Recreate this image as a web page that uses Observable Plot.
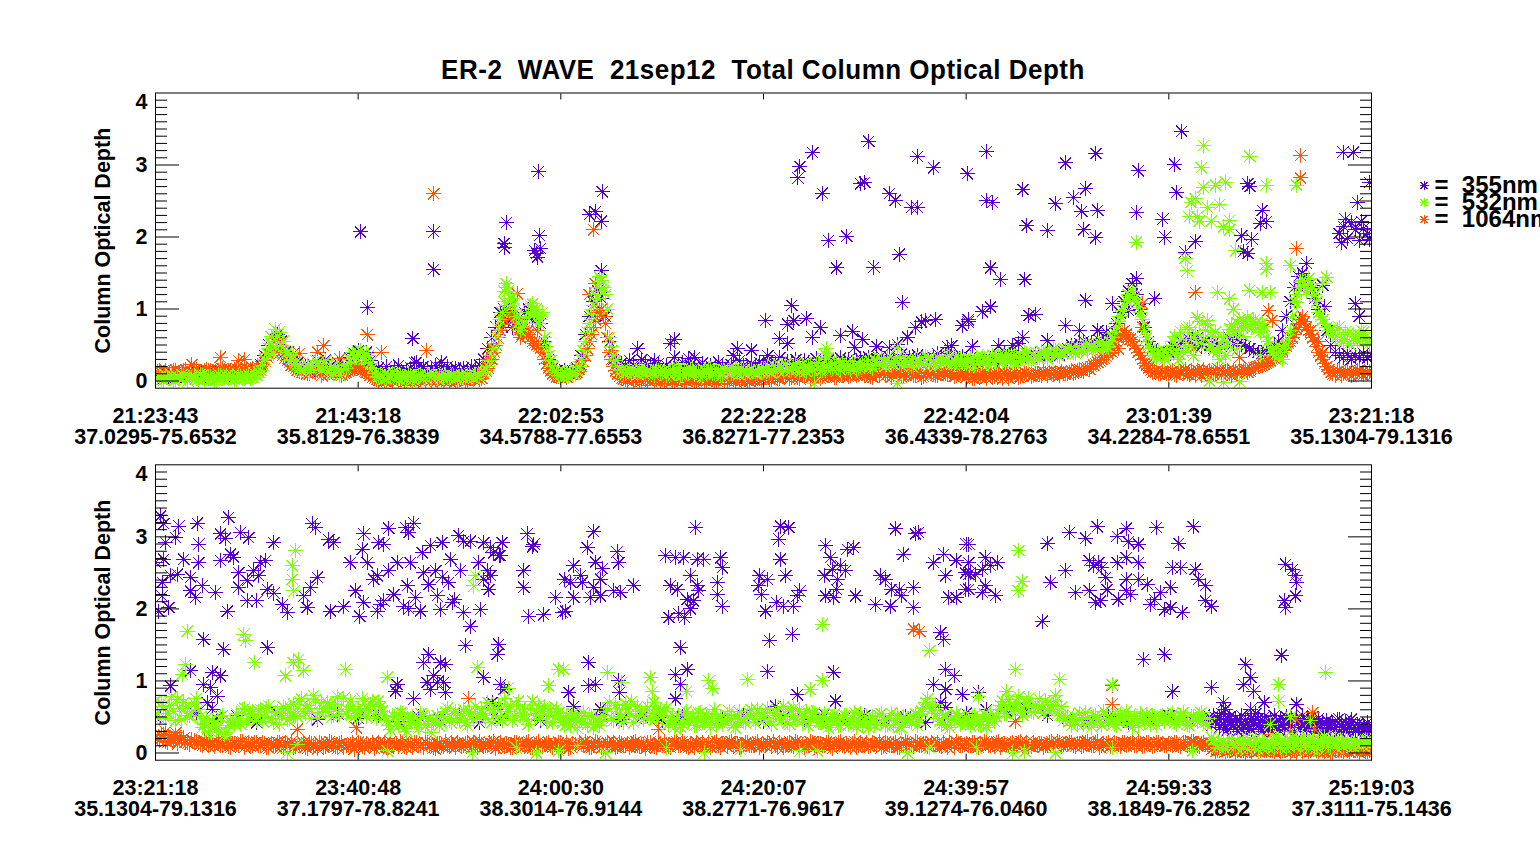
<!DOCTYPE html>
<html>
<head>
<meta charset="utf-8">
<script src="https://cdn.jsdelivr.net/npm/d3@7"></script>
<script src="https://cdn.jsdelivr.net/npm/@observablehq/plot@0.6"></script>
<style>
  html, body { margin: 0; padding: 0; width: 1540px; height: 845px; overflow: hidden; background: white; }
  #title { position: absolute; left: 0; width: 1526px; top: 55px; line-height: 30px; text-align: center;
           font-family: "Liberation Sans", Arial, sans-serif; font-weight: bold; font-size: 26px;
           white-space: pre; letter-spacing: 0.5px; transform: scaleY(1.05); color: black; }
  #p1 { position: absolute; left: 0; top: 0; }
  #p2 { position: absolute; left: 0; top: 448px; }
</style>
</head>
<body>
<div id="title">ER-2  WAVE  21sep12  Total Column Optical Depth</div>
<div id="p1"></div>
<div id="p2"></div>
<script>
// ---------- tick labels ----------
const times1 = ["21:23:43","21:43:18","22:02:53","22:22:28","22:42:04","23:01:39","23:21:18"];
const coords1 = ["37.0295-75.6532","35.8129-76.3839","34.5788-77.6553","36.8271-77.2353","36.4339-78.2763","34.2284-78.6551","35.1304-79.1316"];
const times2 = ["23:21:18","23:40:48","24:00:30","24:20:07","24:39:57","24:59:33","25:19:03"];
const coords2 = ["35.1304-79.1316","37.1797-78.8241","38.3014-76.9144","38.2771-76.9617","39.1274-76.0460","38.1849-76.2852","37.3111-75.1436"];
const yTickLabels = [0, 1, 2, 3, 4];
const wavelengths = ["355nm", "532nm", "1064nm"];

// ---------- panel 1: regularly sampled optical depth, in hundredths ----------
// "A" samples at x = 0, 0.02 … 6 ; "B" samples at x = 0.01, 0.03 … 5.99 (x in tick intervals)
const p1Dense = [
  6,10,4,8,12,5,9,11,7,10,13,6,9,12,8,11,14,7,10,13,9,12,15,10,13,
  14,22,35,50,45,65,55,40,30,38,25,18,20,14,22,28,18,30,20,12,25,16,20,32,38,
  42,35,40,28,14,18,10,20,12,16,22,10,15,18,25,12,20,14,18,22,15,12,20,16,18,
  14,18,12,20,16,22,30,45,60,75,95,100,85,75,90,80,95,100,85,90,80,55,30,18,14,
  12,15,10,14,18,35,65,90,110,125,115,90,55,30,20,25,18,28,22,45,30,25,20,28,24,
  14,22,18,12,20,26,16,22,14,19,25,17,21,13,26,20,16,23,18,28,21,17,24,20,26,
  22,28,20,25,32,22,27,24,30,21,28,26,23,31,25,22,29,27,24,32,26,30,23,28,31,
  28,33,26,31,35,29,34,27,32,37,30,33,28,36,31,34,29,32,38,30,35,31,33,29,34,
  28,32,24,30,34,27,31,29,35,28,33,36,30,34,32,38,33,37,35,40,34,39,42,36,41,
  45,50,47,52,55,48,53,50,56,52,54,65,80,95,110,125,135,120,100,75,55,45,40,38,36,
  40,48,45,55,50,58,52,60,48,55,50,45,52,48,55,60,52,58,50,48,45,42,40,38,42,
  45,50,55,70,90,110,130,145,150,140,130,115,100,85,70,50,40,35,32,38,30,35,33,38,32,
  35];
const o1Dense = [
  11,14,12,10,13,15,12,14,11,13,16,12,14,15,13,12,16,14,15,13,17,14,16,15,17,
  16,20,28,38,45,50,40,32,25,20,15,12,18,10,16,14,8,15,12,10,14,8,12,15,18,
  20,15,12,8,3,1,4,0,2,5,1,3,0,4,2,1,3,5,0,2,4,1,3,2,0,
  2,4,1,3,5,2,10,18,30,50,70,85,95,90,80,60,70,65,55,50,45,30,18,10,6,
  5,8,6,10,12,20,35,55,75,95,100,80,40,20,10,4,2,5,1,3,0,2,4,1,3,
  2,0,3,1,4,2,0,3,1,2,4,0,3,1,2,5,1,3,0,2,4,1,3,2,4,
  3,6,2,8,4,7,10,5,9,3,8,11,6,9,4,10,7,12,5,9,11,6,10,8,12,
  8,13,5,11,15,7,12,9,14,6,10,16,8,12,5,11,14,9,7,13,10,15,6,11,9,
  5,9,3,7,11,4,8,6,10,3,9,7,12,5,8,10,6,11,9,13,7,10,12,8,11,
  10,14,12,16,13,18,20,24,28,32,38,45,55,65,70,60,55,45,35,25,18,12,14,10,12,
  10,14,8,13,16,9,12,15,7,11,14,10,17,8,13,11,15,9,12,16,14,18,20,22,25,
  28,32,38,42,48,55,65,80,90,75,65,55,40,30,20,12,8,14,10,13,7,12,15,9,11,
  12];
const o1DenseB = [
  13,11,15,12,14,10,13,16,12,15,13,11,16,14,12,15,17,13,14,16,15,13,17,16,15,
  18,24,33,42,48,46,36,28,22,17,13,16,11,14,12,17,11,9,14,12,9,11,14,17,20,
  17,13,10,5,2,4,0,3,1,5,2,0,3,1,4,2,0,3,5,1,2,4,0,3,1,
  3,1,4,2,6,4,14,24,40,60,78,90,92,85,70,65,68,60,52,48,40,24,14,8,6,
  7,5,9,11,16,28,45,65,85,98,90,60,30,14,6,3,1,4,2,0,3,1,3,2,0,
  1,3,0,2,4,1,3,2,0,3,1,4,2,0,3,1,4,2,3,1,2,0,4,3,2,
  5,2,7,4,9,6,3,8,5,10,7,4,11,8,6,12,9,5,10,7,13,8,11,9,10,
  10,6,12,8,14,9,5,13,10,7,15,11,8,12,6,14,10,8,13,11,9,14,7,12,10,
  7,4,10,6,8,12,5,9,7,11,4,8,10,6,12,9,7,11,8,10,12,9,11,13,10,
  12,11,15,14,17,16,22,26,30,35,42,50,60,68,65,58,50,40,30,22,15,13,11,13,10,
  12,9,15,11,10,14,8,13,16,10,12,9,15,11,14,8,13,10,15,12,17,19,21,24,26,
  30,35,40,45,52,60,72,85,82,70,60,48,35,25,16,10,13,8,12,11,9,14,10,12,13];
const g1Dense = [
  3,6,1,5,8,2,4,7,0,5,3,9,2,6,4,1,7,5,3,8,2,6,4,9,5,
  8,15,30,45,38,62,50,42,28,35,22,15,18,12,20,25,15,28,18,10,22,14,18,30,35,
  40,32,38,25,10,5,8,3,7,9,4,6,2,8,5,7,3,9,4,6,8,2,5,7,4,
  6,3,8,5,9,7,12,20,35,60,85,110,125,105,90,70,80,95,100,90,85,60,35,20,12,
  8,12,6,10,15,30,55,80,105,130,140,120,60,35,20,14,10,16,12,9,15,11,13,8,14,
  12,7,15,10,18,8,13,16,9,14,6,12,17,10,13,8,15,11,18,9,14,12,16,10,13,
  14,20,11,17,22,13,19,15,24,12,18,21,16,25,14,20,23,17,26,15,22,19,27,16,21,
  22,28,18,25,31,20,27,24,33,21,29,26,19,30,25,34,22,28,32,24,27,35,23,30,26,
  25,31,22,28,34,24,30,27,35,26,32,29,36,27,33,38,30,35,32,40,31,37,42,34,39,
  40,46,38,44,50,42,48,45,52,43,47,60,75,90,105,120,125,110,95,70,50,40,32,38,30,
  35,55,42,68,50,75,60,88,52,70,45,62,40,55,48,72,65,80,75,82,78,85,72,80,60,
  45,35,40,30,50,70,110,130,140,125,135,120,95,85,75,70,60,75,55,65,50,62,58,68,55,
  58];
const g1DenseB = [
  5,2,8,4,1,6,9,3,5,7,2,8,4,6,1,9,3,7,5,2,8,4,6,3,10,
  12,22,38,52,48,68,55,40,30,25,18,12,22,16,28,20,24,12,20,16,8,18,25,40,32,
  42,30,35,18,6,9,3,7,10,4,8,5,9,2,6,8,4,7,10,3,6,9,5,8,4,
  8,5,10,4,7,11,16,28,45,72,95,130,115,100,80,75,88,105,92,80,95,48,28,15,8,
  10,7,14,9,20,42,68,92,120,145,125,100,48,28,16,11,15,9,13,17,10,14,12,16,11,
  15,10,13,17,8,14,11,16,12,9,15,18,10,13,7,14,16,11,12,17,9,15,13,10,16,
  17,12,22,15,19,24,14,20,17,23,13,21,18,26,15,22,19,24,17,27,20,16,23,18,25,
  25,20,30,23,27,32,22,28,24,34,26,20,31,27,23,33,29,21,30,26,36,24,28,31,25,
  29,24,33,27,31,23,36,28,32,30,37,25,34,31,39,28,36,33,41,35,38,44,36,40,43,
  44,40,48,42,52,46,50,44,54,48,55,68,82,98,112,118,115,102,85,60,45,36,42,34,40,
  45,62,38,58,72,48,65,82,58,78,50,68,45,60,52,78,70,85,62,88,74,80,68,76,55,
  40,48,32,45,58,90,120,138,130,142,128,110,90,80,70,65,72,58,68,52,64,56,70,60,52];

// ---------- panel 1: scattered readings [x, optical depth] ----------
const p1Scatter = [[1.012,2.07],[1.045,1.02],[1.373,2.07],[1.373,1.55],[1.27,0.59],[1.29,0.26],[1.41,0.26],
  [1.732,2.20],[1.72,1.91],[1.72,1.85],[1.71,0.75],[1.74,0.98],[1.89,2.91],[1.895,2.02],[1.87,1.81],[1.88,1.77],[1.90,1.84],[1.885,1.72],
  [2.204,2.63],[2.14,2.31],[2.17,2.35],[2.20,2.22],[2.20,1.53],
  [2.54,0.52],[2.56,0.58],[2.56,0.33],[2.63,0.31],[2.66,0.33],[2.85,0.35],[2.87,0.45],[2.94,0.43],[3.01,0.84],[3.02,0.35],[3.14,1.05],[3.15,0.84],[3.21,0.87],[3.12,0.79],[3.08,0.59],[3.12,0.52],[3.24,0.61],[3.28,0.74],[3.38,0.63],[3.44,0.69],[3.49,0.58],[3.45,0.47],[3.56,0.48],[3.62,0.46],[3.66,0.51],[3.685,1.09],[3.71,0.61],[3.75,0.74],[3.78,0.82],[3.80,0.84],[3.85,0.85],[3.91,0.47],[3.93,0.49],[3.98,0.77],[4.01,0.85],
  [3.17,2.82],[3.18,2.98],[3.243,3.17],[3.29,2.61],[3.52,3.33],[3.48,2.74],[3.50,2.76],[3.62,2.60],[3.65,2.51],[3.73,2.41],[3.76,2.41],[3.76,3.12],[3.84,2.96],[4.005,2.88],[3.32,1.95],[3.41,2.01],[3.36,1.57],[3.545,1.58],[3.67,1.76],
  [4.10,3.19],[4.10,2.51],[4.13,2.48],[4.28,2.66],[4.30,2.16],[4.40,2.09],[4.49,3.03],[4.44,2.46],[4.53,2.55],[4.57,2.36],[4.59,2.67],[4.65,2.37],[4.58,2.10],[4.64,1.99],[4.64,3.16],[4.85,2.92],[4.84,2.34],[4.12,1.57],[4.17,1.41],[4.29,1.41],[4.59,1.12],[4.72,1.07],[4.93,1.14],[4.01,0.82],[4.08,0.96],[4.12,1.03],[4.31,0.91],[4.34,0.93],[4.49,0.77],[4.56,0.70],[4.65,0.70],[4.69,0.68],[4.28,0.61],[4.40,0.56],[4.16,0.49],[4.23,0.49],[4.26,0.52],[4.19,0.40],[4.03,0.48],[4.84,1.42],[4.80,0.98],
  [5.063,3.47],[5.03,3.01],[5.04,2.62],[4.97,2.25],[4.98,2.0],[5.13,1.94],[5.08,1.79],[5.39,2.74],[5.40,2.70],[5.36,2.02],[5.41,1.97],[5.39,1.77],[5.37,1.80],[5.46,2.37],[5.48,2.21],[5.45,2.19],[5.86,3.18],[5.91,3.18],[5.99,2.76],[5.93,2.48],[5.92,1.07],[5.94,0.9],[5.68,1.63],[5.76,1.33],[5.66,1.35],[5.77,1.03],[5.645,0.85],
  [5.84,2.05],[5.86,2.15],[5.88,1.98],[5.90,2.2],[5.92,2.1],[5.94,1.95],[5.96,2.12],[5.98,2.05],[5.87,2.25],[5.95,2.22],[5.85,1.92],[5.99,1.97]];
const o1Scatter = [[0.18,0.23],[0.32,0.33],[0.41,0.28],[0.44,0.30],[0.60,0.59],[0.71,0.38],[0.83,0.49],[0.80,0.40],[0.91,0.31],[1.045,0.64],[1.113,0.40],[1.337,0.42],[1.373,2.60],[1.785,1.21],[1.75,1.05],[1.883,0.70],[2.163,2.10],[2.17,1.35],[2.14,1.20],[1.66,0.45],[1.64,0.3],[2.25,0.42],
  [5.13,1.23],[5.13,0.47],[5.35,0.33],[5.65,3.13],[5.65,2.82],[5.63,1.84],[5.49,0.98],[5.51,0.84],[5.70,0.70],[5.76,0.40],[5.74,0.55],[4.87,1.07],[4.87,0.75],[4.79,0.6],[4.72,0.4],[4.75,0.45]];
const g1Scatter = [[0.59,0.72],[0.57,0.62],[1.73,1.35],[1.72,1.25],[1.76,1.15],[1.86,1.07],[1.88,1.0],[1.91,0.95],[2.19,1.44],[2.21,1.3],[2.18,1.15],[3.31,0.45],[3.30,0.38],[3.32,0.32],[3.66,0.47],[3.25,-0.03],[3.66,-0.03],
  [5.17,3.27],[5.16,2.96],[5.40,3.12],[5.48,2.72],[5.17,2.69],[5.13,2.53],[5.11,2.48],[5.10,2.28],[5.14,2.28],[5.15,2.22],[5.21,2.22],[5.19,2.41],[5.23,2.72],[5.28,2.76],[5.25,2.45],[5.30,2.23],[5.27,2.14],[5.30,2.10],[5.33,1.81],[5.08,1.70],[5.09,1.53],[4.84,1.93],[5.48,1.63],[5.48,1.55],[5.24,1.23],[5.30,1.14],[5.40,1.26],[5.46,1.23],[5.50,1.23],[5.63,1.09],[5.32,1.0],[5.19,0.84],[5.41,0.79],[5.39,0.76],[5.43,0.82],[5.44,0.75],[5.37,0.8],[5.35,-0.01],[5.20,0.0],[5.27,-0.02],
  [5.78,1.44],[5.76,1.35],[5.07,0.4],[5.12,0.35],[5.22,0.42],[5.28,0.35],[5.34,0.45],[5.45,0.35],[5.05,0.3],[5.25,0.3],[5.63,2.72],[5.60,1.60]];

// ---------- panel 2: regularly sampled optical depth, in hundredths ----------
const p2DenseLow = [50,45,55,48,52,42,56,50,46,54,48,52,44,50,46,55,42,48,52,45,50,48,54,46,50,45,50,42,48,52,44,50,46,54,48,52,45,50,42,48,55,60,58,62,52,48,45,50,42,48,52,46,50]; // x 0 … 5.2, step 0.1
const p2DenseRight = [ // x 5.2 … 6.0, step 0.01
  45,38,52,42,48,35,55,40,46,32, 50,42,38,48,30,44,52,36,46,40, 34,48,42,55,38,45,30,50,40,35,
  46,38,52,44,32,48,40,36,50,42, 38,45,30,48,42,35,52,40,33,46, 38,44,30,40,48,35,42,28,45,38,
  32,42,36,46,30,40,35,44,28,38, 42,34,30,40,36,28,38,32,42,35, 30];
const o2Dense = [
  22,18,25,15,20,24,17,21,14,19,16,12,17,10,14,16,11,15,9,13,12,16,8,14,11,
  15,10,13,7,12,15,9,14,11,8,13,12,8,15,10,6,13,9,16,11,7,14,10,12,5,
  15,9,13,11,6,14,10,8,16,12,9,13,7,11,15,10,8,14,12,6,13,9,11,15,8,
  12,10,14,7,12,16,9,11,13,6,15,10,12,8,14,11,9,16,7,13,10,12,15,8,11,
  14,9,6,13,10,12,16,8,11,14,7,12,10,15,9,13,11,8,14,10,12,6,15,9,13,
  10,12,8,14,11,16,9,13,7,12,15,10,8,14,11,13,9,16,12,7,11,14,10,13,8,
  12,15,9,11,14,7,13,10,16,12,8,11,15,9,13,10,14,6,12,16,9,11,13,8,14,
  11,9,14,12,7,15,10,13,8,12,16,11,9,14,10,13,7,12,15,9,11,14,8,13,10,
  13,10,15,8,12,14,11,9,16,12,10,13,7,14,11,15,9,12,13,8,11,16,10,14,12,
  12,15,9,13,11,16,10,14,8,12,15,11,13,9,14,12,16,10,13,11,15,9,14,12,10,
  13,11,15,9,14,12,16,10,13,12,14,6,3,5,2,4,7,3,5,1,4,6,2,5,3,
  4,2,6,3,5,1,4,7,2,5,3,6,2,4,5,1,3,6,2,4,5,3,1,4,2,
  4];
const o2DenseB = [
  20,24,16,22,18,13,19,15,12,17,14,10,16,12,9,14,11,15,8,13,10,16,12,9,14,
  11,14,8,13,10,15,7,12,16,9,11,14,6,13,10,15,8,12,14,9,13,7,11,15,10,
  13,8,11,15,9,12,14,7,10,13,16,9,12,8,14,11,15,10,7,13,11,16,9,12,14,
  9,13,11,15,8,12,10,14,16,9,11,13,7,15,10,12,14,8,11,16,9,13,10,12,15,
  11,15,8,12,14,10,13,7,16,11,9,14,12,8,15,10,13,11,16,9,12,14,10,8,13,
  14,9,12,16,10,13,8,11,15,12,9,14,10,16,8,12,15,11,13,9,14,10,12,16,11,
  10,13,16,8,12,11,15,9,14,12,10,16,8,13,11,15,9,12,14,10,13,8,16,11,12,
  14,10,12,16,9,13,11,15,8,12,14,10,16,11,13,9,15,12,10,14,8,13,16,11,12,
  11,14,9,13,16,10,12,15,8,13,11,14,10,16,12,9,15,11,13,10,14,12,16,9,13,
  14,11,13,9,15,12,10,16,11,13,9,14,12,15,10,13,11,16,9,14,12,10,15,13,11,
  12,15,10,14,11,16,13,9,14,12,5,2,4,7,3,6,1,5,3,4,2,6,4,3,5,
  3,5,2,4,6,3,1,5,4,2,6,3,5,2,4,1,5,3,6,2,4,3,5,2,4];
const g2Dense = [
  72,48,65,55,78,45,62,70,52,58,75,50,40,28,45,32,50,25,38,42,55,40,62,48,58,
  45,60,50,65,42,58,52,62,48,68,50,75,55,62,80,48,70,58,65,52,78,60,55,72,50,
  62,75,50,68,55,72,58,45,32,50,38,55,30,48,42,35,52,40,28,46,38,50,62,42,58,
  45,60,38,55,65,48,55,70,42,62,50,75,58,45,68,52,60,40,72,55,48,65,58,42,62,
  50,38,45,55,35,48,42,52,36,47,44,58,70,45,62,50,68,55,42,65,52,60,48,70,56,
  50,62,45,35,52,40,58,48,38,55,42,50,36,60,45,40,53,48,35,57,44,52,60,42,55,
  48,62,40,55,50,65,42,58,46,60,52,38,56,48,42,55,35,50,45,38,52,40,48,36,55,
  45,35,50,42,55,38,48,40,52,36,46,44,50,38,58,70,65,55,48,40,52,35,45,50,42,
  46,38,52,40,48,36,55,44,60,72,55,68,62,78,52,70,58,65,75,55,68,60,72,52,45,
  50,38,45,55,40,48,36,52,44,58,42,47,38,53,45,50,35,48,55,42,46,52,38,50,44,
  48,55,40,52,45,38,50,44,56,42,48,18,8,15,5,20,10,16,6,22,12,14,4,18,10,
  16,8,20,12,6,18,10,15,24,9,14,5,19,11,16,7,21,13,9,17,12,6,15,10,18,
  12];
const g2DenseB = [
  55,70,48,66,58,74,46,64,52,69,60,35,48,30,42,36,52,28,44,40,48,60,45,55,50,
  58,44,62,48,56,40,64,46,55,52,72,58,66,48,74,56,62,70,50,68,54,76,58,64,52,
  55,68,60,72,48,64,52,38,52,42,56,34,46,50,40,55,36,48,44,52,42,58,45,55,48,
  52,42,58,46,50,60,48,62,52,68,45,58,65,50,72,55,46,62,52,66,58,44,60,50,56,
  42,52,38,48,44,56,40,50,46,38,52,62,48,66,55,42,60,72,50,58,46,64,55,48,60,
  58,40,52,46,36,55,44,50,38,56,42,48,54,40,50,45,58,38,52,46,42,55,46,60,50,
  56,44,52,60,46,54,40,62,50,44,58,48,55,42,50,40,46,54,38,48,52,42,56,44,40,
  50,42,38,52,46,40,55,44,36,50,48,42,54,46,62,75,60,68,44,52,38,48,55,40,50,
  42,50,46,38,54,44,48,50,66,55,74,60,70,58,65,76,56,68,62,72,58,66,55,64,48,
  44,52,40,48,56,42,50,46,38,54,48,40,52,45,58,42,50,38,46,54,40,50,45,52,48,
  52,42,48,56,40,50,46,54,42,38,22,12,6,16,10,20,8,14,18,5,12,20,9,15,7,
  12,20,7,15,10,22,14,5,17,11,19,8,13,23,10,16,6,14,20,11,8,17,13,19,10];

// ---------- panel 2: scattered readings [x, optical depth] ----------
const p2Scatter = [[0.025,3.29],[0.041,3.18],[0.115,3.15],[0.206,3.19],[0.362,3.27],[0.321,3.04],[0.345,2.98],[0.419,3.06],[0.46,2.99],[0.099,2.99],[0.049,2.92],[0.214,2.90],[0.584,2.92],[0.773,3.18],[0.789,3.13],[0.855,2.96],[0.88,2.92],[1.028,3.04],[1.02,2.83],[1.102,2.92],[1.127,2.90],[1.151,3.12],[1.234,3.13],[1.275,3.19],[1.25,3.06],[1.497,3.02],[1.521,2.94],[1.554,2.94],[1.62,2.92],[1.653,2.85],[1.71,2.92],[1.669,2.78],[1.702,2.74],[1.834,3.04],[1.867,2.90],[1.86,2.86],
  [0.0,2.64],[0.041,2.69],[0.14,2.69],[0.214,2.64],[0.321,2.67],[0.37,2.76],[0.385,2.72],[0.518,2.64],[0.543,2.67],[0.074,2.46],[0.107,2.48],[0.173,2.44],[0.23,2.32],[0.411,2.50],[0.452,2.39],[0.485,2.53],[0.51,2.46],[0.551,2.27],[0.584,2.22],
  [0.033,2.37],[0.033,2.18],[0.173,2.25],[0.197,2.16],[0.296,2.23],[0.411,2.30],[0.452,2.11],[0.5,2.11],[0.625,2.06],[0.65,1.95],[0.732,2.18],[0.748,2.02],[0.765,2.30],[0.798,2.44],[0.016,1.97],[0.066,2.02],[0.354,1.97],[0.863,1.97],[0.929,2.03],[0.962,2.64],[0.987,2.25],[1.008,1.90],[1.044,2.64],[1.028,2.09],[1.077,2.41],[1.094,2.46],[1.11,2.06],[1.127,2.11],[1.094,1.97],[1.151,2.53],[1.192,2.64],[1.176,2.20],[1.225,2.04],[1.25,2.0],[1.258,2.64],[1.242,2.32],[1.283,2.16],[1.308,1.97],[1.316,2.78],[1.324,2.50],[1.357,2.88],[1.349,2.34],[1.382,2.53],[1.39,2.18],[1.414,2.92],[1.414,2.44],[1.406,1.99],[1.447,2.37],[1.456,2.69],[1.464,2.09],[1.475,2.13],[1.505,2.53],[1.521,1.95],[1.554,1.76],[1.595,2.64],[1.604,1.99],[1.62,2.41],[1.636,2.53],[1.645,2.27],[1.655,2.46],[1.695,2.74],[1.817,2.53],[1.817,2.30],[1.842,1.90],[1.916,1.92],[1.974,2.16],[2.007,1.95],[2.02,2.41],
  [0.238,1.58],[0.337,1.44],[0.551,1.46],[0.173,1.14],[0.074,0.93],[0.28,1.12],[0.321,1.07],[0.238,0.95],[0.271,0.91],[0.304,0.79],[0.28,0.61],[0.255,0.70],[1.349,1.37],[1.324,1.25],[1.406,1.25],[1.431,1.23],[1.373,1.07],[1.39,0.98],[1.423,0.98],[1.357,0.88],[1.34,0.98],[1.431,0.84],[1.192,0.95],[1.184,0.86],[1.275,0.75],[1.53,1.49],[1.694,1.51],[1.686,1.37],[1.62,1.05],[1.702,0.95],[1.72,0.88],[1.661,0.70],[1.686,0.61],
  [2.163,3.07],[2.13,2.85],[2.278,2.79],[2.286,2.64],[2.171,2.65],[2.204,2.56],[2.064,2.60],[2.097,2.46],[2.048,2.37],[2.105,2.37],[2.197,2.41],[2.163,2.30],[2.262,2.25],[2.296,2.23],[2.36,2.33],[2.064,2.16],[2.146,2.16],[2.196,2.18],[2.023,1.97],[2.665,3.13],[2.516,2.74],[2.566,2.71],[2.607,2.71],[2.673,2.69],[2.706,2.69],[2.79,2.71],[2.796,2.57],[2.64,2.46],[2.54,2.32],[2.574,2.27],[2.673,2.32],[2.68,2.25],[2.773,2.37],[2.773,2.20],[2.623,2.13],[2.655,2.11],[2.64,2.0],[2.582,1.93],[2.533,1.88],[2.61,1.88],[2.796,2.04],[2.59,1.46],
  [3.084,3.15],[3.125,3.13],[3.076,2.97],[3.084,2.69],[3.109,2.46],[2.98,2.46],[2.977,2.32],[3.02,2.41],[2.99,2.20],[3.064,2.09],[3.097,2.04],[3.146,2.04],[3.166,2.18],[3.18,2.25],[3.01,1.97],[3.03,1.56],[3.141,1.65],[3.02,1.13],[3.306,2.88],[3.33,2.71],[3.413,2.83],[3.446,2.85],[3.30,2.46],[3.339,2.55],[3.38,2.60],[3.405,2.53],[3.365,2.41],[3.36,2.27],[3.306,2.18],[3.347,2.16],[3.454,2.18],[3.347,1.12],[3.355,0.72],[3.651,3.11],[3.75,3.04],[3.765,3.06],[3.69,2.76],[3.577,2.46],[3.60,2.41],[3.63,2.27],[3.67,2.27],[3.68,2.18],[3.74,2.30],[3.553,2.06],[3.627,2.04],[3.74,2.02],[3.84,2.64],[3.89,2.76],[3.95,2.67],[4.0,2.90],[3.90,2.46],[3.997,2.50],[4.02,2.50],[3.914,2.16],[3.95,2.16],[3.997,2.27],[3.875,1.67],[3.89,1.58],
  [2.138,1.26],[2.04,0.84],[2.138,0.93],[2.171,0.95],[2.286,1.0],[2.29,0.84],[2.566,1.09],[2.623,1.16],[2.59,0.95],[2.566,0.75],[2.196,0.61],[2.064,0.65],[3.166,0.81],[3.06,0.65],[3.898,1.16],[3.94,1.07],[3.84,0.95],[3.90,0.88],[3.98,0.81],[3.875,0.70],[3.90,0.63],
  [4.013,2.90],[4.013,2.64],[4.013,2.48],[4.013,2.27],[4.095,2.71],[4.12,2.60],[4.153,2.64],[4.08,2.55],[4.046,2.48],[4.095,2.32],[4.08,2.23],[4.145,2.19],[4.062,0.84],[4.40,2.91],[4.51,3.06],[4.59,2.98],[4.646,3.14],[4.745,3.01],[4.79,3.12],[4.80,2.93],[4.85,2.90],[4.94,3.13],[5.05,2.91],[5.12,3.14],[4.49,2.53],[4.417,2.37],[4.607,2.67],[4.63,2.60],[4.655,2.64],[4.67,2.57],[4.745,2.64],[4.79,2.71],[4.85,2.64],[4.688,2.44],[4.54,2.23],[4.607,2.25],[4.64,2.09],[4.663,2.11],[4.695,2.27],[4.75,2.13],[4.79,2.25],[4.81,2.20],[4.79,2.41],[4.85,2.41],[4.893,2.34],[4.91,2.06],[4.93,2.13],[4.959,2.23],[4.98,1.99],[5.01,2.02],[5.01,2.30],[5.02,2.57],[5.06,2.57],[5.066,1.95],[5.13,2.55],[5.148,2.41],[5.18,2.32],[5.18,2.11],[5.21,2.04],[4.375,1.83],[4.875,1.30],[4.98,1.37],[5.02,0.85],[5.21,0.91],[5.576,2.62],[5.61,2.55],[5.625,2.46],[5.63,2.37],[5.625,2.18],[5.57,2.11],[5.576,2.02],[5.556,1.36],
  [5.38,1.23],[5.405,1.05],[5.37,0.95],[5.42,0.86],[5.47,0.70],[5.63,0.68],[5.773,1.12],[5.27,0.70],[5.28,0.61],[5.25,0.51],[5.294,0.47],[5.27,0.33],[5.405,0.61],[5.44,0.47],[5.477,0.42],[5.49,0.33],[5.41,0.33],[5.36,0.33],[5.51,0.38],[5.658,0.47],[5.71,0.51],[5.77,0.33],[5.80,0.38],[5.84,0.47],[5.90,0.47],[5.94,0.38],[5.97,0.28],[5.87,0.33]];
const o2Scatter = [[1.546,0.75],[0.70,0.33],[0.99,0.35],[3.74,1.72],[3.77,1.69],[2.484,0.33],[4.72,0.94],[4.72,0.68],[4.243,0.44],[5.71,0.56],[5.625,0.47],[5.72,0.33],[5.5,0.25],[5.6,0.3],[5.3,0.1],[0.05,0.3],[0.1,0.28]];
const g2Scatter = [[0.691,2.81],[0.674,2.60],[0.674,2.41],[0.683,2.25],[0.156,1.69],[0.436,1.65],[0.444,1.56],[0.49,1.25],[0.148,1.23],[0.132,1.09],[0.68,1.25],[0.707,1.30],[0.732,1.14],[0.641,1.07],[0.9375,1.16],[1.143,1.05],[1.579,2.46],[1.571,2.32],[1.587,1.19],[1.99,1.16],[1.74,0.9],[1.94,0.93],
  [0.70,0.12],[0.65,0.0],[1.143,0.03],[1.563,0.0],[1.78,0.07],[1.88,0.0],[1.99,0.03],
  [3.29,1.79],[3.82,1.42],[2.015,1.16],[2.23,1.12],[2.44,1.05],[2.92,1.02],[2.73,1.0],[3.29,1.0],[3.23,0.88],[2.30,0.98],[2.75,0.9],[2.45,0.85],[2.62,0.85],
  [2.08,0.10],[2.22,0.0],[2.52,0.07],[2.707,0.0],[2.887,0.05],[3.18,0.03],[3.265,0.03],[3.71,0.0],[3.82,0.07],
  [4.26,2.81],[4.276,2.38],[4.257,2.25],[4.243,1.16],[4.46,1.02],[4.72,0.95],[5.543,0.95],[5.543,0.72],[5.773,1.12],[4.06,0.79],[4.2,0.85],[4.44,0.8],[5.6,0.5],[5.7,0.45],[5.5,0.4],
  [4.05,0.07],[4.23,0.0],[4.44,0.0],[4.72,0.07],[5.117,0.03],[4.29,0.02]];

// ---------- styling ----------
const colors = ["#5500cc", "#80ff00", "#ff5500"]; // 355, 532, 1064 nm
const FONT = "Liberation Sans, Arial, Helvetica, sans-serif";

// IDL-style asterisk (psym=2)
const asterisk = {
  draw(ctx, size) {
    const r = Math.sqrt(size / Math.PI), d = r * 0.75;
    ctx.moveTo(-r, 0); ctx.lineTo(r, 0);
    ctx.moveTo(0, -r); ctx.lineTo(0, r);
    ctx.moveTo(-d, -d); ctx.lineTo(d, d);
    ctx.moveTo(-d, d); ctx.lineTo(d, -d);
  }
};

// a regularly sampled run of readings between x0 and x1 (values in hundredths)
const denseRows = (arr, x0, x1) => arr.map((v, i) => ({x: x0 + i * (x1 - x0) / (arr.length - 1), v: v / 100}));
const scatterRows = (arr) => arr.map(([x, v]) => ({x, v}));

const minorY = d3.range(1, 40).filter(k => k % 10 !== 0).map(k => k / 10);
const majorY = [0, 1, 2, 3];
const xTicks = [0, 1, 2, 3, 4, 5, 6];

function panel({purple, orange, green, times, coords, height, marginTop, marginBottom, legend}) {
  const series = [
    {rows: purple, color: colors[0]},
    {rows: orange, color: colors[2]},
    {rows: green, color: colors[1]}
  ];
  const textOpts = {fontSize: 21.5, fontWeight: "bold", fill: "black"};
  const marks = [];
  for (const s of series) {
    marks.push(Plot.dot(s.rows, {x: "x", y: "v", symbol: asterisk, r: 7.5, stroke: s.color, strokeWidth: 1, fill: "none", clip: true, shapeRendering: "crispEdges"}));
  }
  marks.push(
    Plot.frame({stroke: "black", strokeWidth: 1}),
    Plot.axisY(minorY, {anchor: "left", tickSize: -12, tickFormat: () => "", label: null, stroke: "black"}),
    Plot.axisY(majorY, {anchor: "left", tickSize: -24, tickFormat: () => "", label: null, stroke: "black"}),
    Plot.axisY(minorY, {anchor: "right", tickSize: -12, tickFormat: () => "", label: null, stroke: "black"}),
    Plot.axisY(majorY, {anchor: "right", tickSize: -24, tickFormat: () => "", label: null, stroke: "black"}),
    Plot.axisX(xTicks, {anchor: "bottom", tickSize: -6, tickFormat: () => "", label: null, stroke: "black"}),
    Plot.axisX(xTicks, {anchor: "top", tickSize: -6, tickFormat: () => "", label: null, stroke: "black"}),
    Plot.text(yTickLabels.filter(d => d < 4), {y: d => d, text: d => String(d), frameAnchor: "left", dx: -8, textAnchor: "end", lineAnchor: "middle", ...textOpts}),
    Plot.text(yTickLabels.filter(d => d === 4), {y: d => d, text: d => String(d), frameAnchor: "left", dx: -8, dy: 9, textAnchor: "end", lineAnchor: "middle", ...textOpts}),
    Plot.text(xTicks, {x: d => d, text: d => times[d], frameAnchor: "bottom", dy: 28, lineAnchor: "middle", ...textOpts}),
    Plot.text(xTicks, {x: d => d, text: d => coords[d], frameAnchor: "bottom", dy: 48.5, lineAnchor: "middle", ...textOpts}),
    Plot.text(["Column Optical Depth"], {frameAnchor: "left", dx: -52.5, rotate: -90, textAnchor: "middle", lineAnchor: "middle", ...textOpts})
  );
  if (legend) {
    [0, 1, 2].forEach((k, j) => {
      marks.push(
        Plot.dot([wavelengths[k]], {frameAnchor: "top-right", dx: 52.5, dy: 92.5 + 17 * j, symbol: asterisk, r: 4.5, stroke: colors[k], strokeWidth: 1, fill: "none", shapeRendering: "crispEdges"}),
        Plot.text([wavelengths[k]], {frameAnchor: "top-right", dx: 63, dy: 92.5 + 17 * j, text: d => "=  " + d, textAnchor: "start", lineAnchor: "middle", fontSize: 24, fontWeight: "bold", fill: "black"})
      );
    });
  }
  return Plot.plot({
    width: 1540, height, marginLeft: 155, marginRight: 169, marginTop, marginBottom,
    x: {domain: [0, 6]},
    y: {domain: [-0.1, 4]},
    style: {background: "transparent", overflow: "visible", fontFamily: FONT},
    marks
  });
}

document.getElementById("p1").append(panel({
  purple: [...denseRows(p1Dense, 0, 6), ...scatterRows(p1Scatter)],
  orange: [...denseRows(o1Dense, 0, 6), ...denseRows(o1DenseB, 0.01, 5.99), ...scatterRows(o1Scatter)],
  green: [...denseRows(g1Dense, 0, 6), ...denseRows(g1DenseB, 0.01, 5.99), ...scatterRows(g1Scatter)],
  times: times1, coords: coords1, height: 448, marginTop: 92.5, marginBottom: 60.3, legend: true
}));
document.getElementById("p2").append(panel({
  purple: [...denseRows(p2DenseLow, 0, 5.2), ...denseRows(p2DenseRight, 5.2, 6), ...scatterRows(p2Scatter)],
  orange: [...denseRows(o2Dense, 0, 6), ...denseRows(o2DenseB, 0.01, 5.99), ...scatterRows(o2Scatter)],
  green: [...denseRows(g2Dense, 0, 6), ...denseRows(g2DenseB, 0.01, 5.99), ...scatterRows(g2Scatter)],
  times: times2, coords: coords2, height: 397, marginTop: 16.3, marginBottom: 85.3, legend: false
}));
</script>
</body>
</html>
